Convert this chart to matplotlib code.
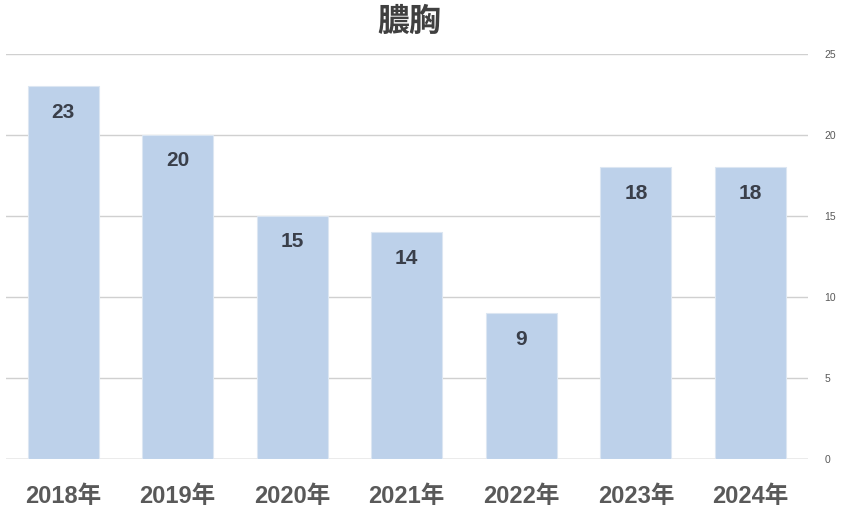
import matplotlib
matplotlib.use("Agg")
import matplotlib.pyplot as plt

years = ["2018年", "2019年", "2020年", "2021年", "2022年", "2023年", "2024年"]
counts = [23, 20, 15, 14, 9, 18, 18]
yticks = [0, 5, 10, 15, 20, 25]

plt.rcParams["font.family"] = ["Liberation Sans", "Noto Sans CJK JP", "DejaVu Sans"]

fig = plt.figure(figsize=(8.44, 5.25), dpi=100)
ax = fig.add_axes([0.007, 0.1257, 0.95, 0.7714])

x = range(len(years))
bars = ax.bar(x, counts, width=0.62, color="#BDD1EA", edgecolor="#DCE6F2", linewidth=0.8, zorder=2)
for b, v in zip(bars, counts):
    ax.text(b.get_x() + b.get_width() / 2, v - 1.6, str(v), ha="center", va="center",
            fontsize=15, fontweight="bold", color="#3A3F4A", zorder=3)

ax.set_xlim(-0.5, len(years) - 0.5)
ax.set_ylim(0, 25)
ax.set_yticks(yticks)
ax.yaxis.tick_right()
ax.tick_params(axis="y", length=0, labelsize=7.5, labelcolor="#595959", pad=12)
ax.set_xticks(list(x))
ax.set_xticklabels(years, fontsize=17, color="#595959", fontweight="bold")
ax.tick_params(axis="x", length=0, pad=19)
ax.grid(axis="y", color="#D0D0D0", linewidth=1, zorder=0)
for s in ax.spines.values():
    s.set_visible(False)
ax.axhline(0, color="#BFBFBF", linewidth=1, zorder=1)

fig.text(0.485, 0.958, "膿胸", ha="center", va="center", fontsize=23, fontweight="bold",
         color="#404040", family=["Noto Sans CJK JP"])

fig.savefig("out.png", dpi=100)
